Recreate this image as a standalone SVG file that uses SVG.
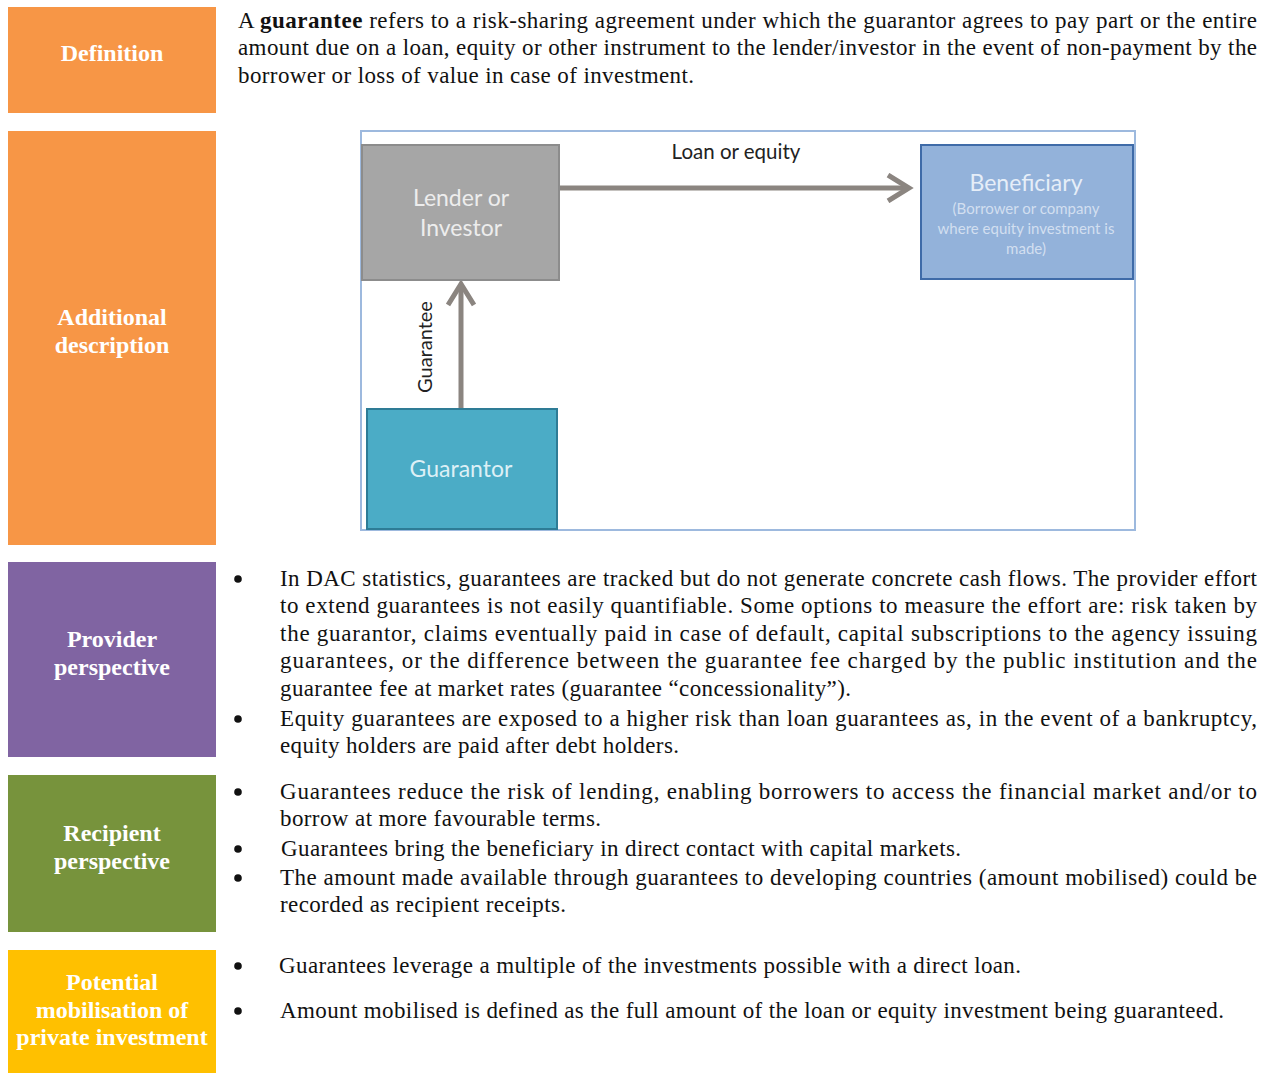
<svg xmlns="http://www.w3.org/2000/svg" width="1275" height="1074" viewBox="0 0 1275 1074">
<style>
.lbl{font-family:"Liberation Serif","Times New Roman",serif;font-size:24px;font-weight:bold;fill:#fff;text-anchor:middle}
.body{font-family:"Liberation Serif","Times New Roman",serif;font-size:23px;fill:#111}
.bul{fill:#111}
.dg{font-family:Lato,"Open Sans","Liberation Sans",sans-serif;text-anchor:middle}
.conn{stroke:#8B8580;stroke-width:5;fill:none}
</style>
<defs>
<marker id="chev" markerUnits="userSpaceOnUse" viewBox="0 0 30 30" markerWidth="30" markerHeight="30" refX="20" refY="15" orient="auto">
<path d="M3,2 L24,15 L3,28" fill="none" stroke="#8B8580" stroke-width="5" stroke-linejoin="miter"/>
</marker>
</defs>
<rect width="1275" height="1074" fill="#fff"/>

<g id="definition">
<rect x="8" y="7" width="208" height="106" fill="#F79646"/>
<text class="lbl" x="112" y="61">Definition</text>
<text class="body" x="238" y="28" textLength="1019" lengthAdjust="spacing">A <tspan font-weight="bold">guarantee</tspan> refers to a risk-sharing agreement under which the guarantor agrees to pay part or the entire</text>
<text class="body" x="238" y="55" textLength="1019" lengthAdjust="spacing">amount due on a loan, equity or other instrument to the lender/investor in the event of non-payment by the</text>
<text class="body" x="238" y="83" textLength="456" lengthAdjust="spacing">borrower or loss of value in case of investment.</text>
</g>

<g id="additional">
<rect x="8" y="131" width="208" height="414" fill="#F79646"/>
<text class="lbl" x="112" y="325">Additional</text>
<text class="lbl" x="112" y="353">description</text>
<rect x="361" y="131" width="774" height="399" fill="#fff" stroke="#9DB9DE" stroke-width="2"/>
</g>

<g id="connectors">
<line class="conn" x1="560" y1="188" x2="905" y2="188" marker-end="url(#chev)"/>
<line class="conn" x1="461" y1="408" x2="461" y2="288" marker-end="url(#chev)"/>
<text class="dg" x="736" y="159" font-size="20.5" fill="#222">Loan or equity</text>
<text class="dg" x="0" y="0" font-size="20" fill="#222" transform="translate(432,347) rotate(-90)">Guarantee</text>
</g>

<g id="lender">
<rect x="362" y="145" width="197" height="135" fill="#A6A6A6" stroke="#8C8C8C" stroke-width="2"/>
<text class="dg" x="461" y="206" font-size="23" fill="#EDEDED">Lender or</text>
<text class="dg" x="461" y="236" font-size="23" fill="#EDEDED">Investor</text>
</g>

<g id="beneficiary">
<rect x="921" y="145" width="212" height="134" fill="#93B2DA" stroke="#3F6BA8" stroke-width="2"/>
<text class="dg" x="1026" y="191" font-size="23" fill="#E6EEF8">Beneficiary</text>
<text class="dg" x="1026" y="214" font-size="15" fill="#D2DFF0">(Borrower or company</text>
<text class="dg" x="1026" y="234" font-size="15" fill="#D2DFF0">where equity investment is</text>
<text class="dg" x="1026" y="254" font-size="15" fill="#D2DFF0">made)</text>
</g>

<g id="guarantor">
<rect x="367" y="409" width="190" height="120" fill="#4BACC6" stroke="#2E7C96" stroke-width="2"/>
<text class="dg" x="461" y="477" font-size="23" fill="#DDF0F6">Guarantor</text>
</g>

<g id="provider">
<rect x="8" y="562" width="208" height="195" fill="#8064A2"/>
<text class="lbl" x="112" y="647">Provider</text>
<text class="lbl" x="112" y="675">perspective</text>
<circle class="bul" cx="238" cy="579" r="3.8"/>
<text class="body" x="280" y="586" textLength="977" lengthAdjust="spacing">In DAC statistics, guarantees are tracked but do not generate concrete cash flows. The provider effort</text>
<text class="body" x="280" y="613" textLength="977" lengthAdjust="spacing">to extend guarantees is not easily quantifiable. Some options to measure the effort are:  risk taken by</text>
<text class="body" x="280" y="641" textLength="977" lengthAdjust="spacing">the guarantor, claims eventually paid in case of default, capital subscriptions to the agency issuing</text>
<text class="body" x="280" y="668" textLength="977" lengthAdjust="spacing">guarantees, or the difference between the guarantee fee charged by the public institution and the</text>
<text class="body" x="280" y="696" textLength="571" lengthAdjust="spacing">guarantee fee at market rates (guarantee “concessionality”).</text>
<circle class="bul" cx="238" cy="719" r="3.8"/>
<text class="body" x="280" y="726" textLength="977" lengthAdjust="spacing">Equity guarantees are exposed to a higher risk than loan guarantees as, in the event of a bankruptcy,</text>
<text class="body" x="280" y="753" textLength="399" lengthAdjust="spacing">equity holders are paid after debt holders.</text>
</g>

<g id="recipient">
<rect x="8" y="775" width="208" height="157" fill="#77933C"/>
<text class="lbl" x="112" y="841">Recipient</text>
<text class="lbl" x="112" y="869">perspective</text>
<circle class="bul" cx="238" cy="792" r="3.8"/>
<text class="body" x="280" y="799" textLength="977" lengthAdjust="spacing">Guarantees reduce the risk of lending, enabling borrowers to access the financial market and/or to</text>
<text class="body" x="280" y="826" textLength="321" lengthAdjust="spacing">borrow at more favourable terms.</text>
<circle class="bul" cx="238" cy="849" r="3.8"/>
<text class="body" x="281" y="856" textLength="680" lengthAdjust="spacing">Guarantees bring the beneficiary in direct contact with capital markets.</text>
<circle class="bul" cx="238" cy="878" r="3.8"/>
<text class="body" x="280" y="885" textLength="977" lengthAdjust="spacing">The amount made available through guarantees to developing countries (amount mobilised) could be</text>
<text class="body" x="280" y="912" textLength="286" lengthAdjust="spacing">recorded as recipient receipts.</text>
</g>

<g id="potential">
<rect x="8" y="950" width="208" height="123" fill="#FFC000"/>
<text class="lbl" x="112" y="990">Potential</text>
<text class="lbl" x="112" y="1018">mobilisation of</text>
<text class="lbl" x="112" y="1045">private investment</text>
<circle class="bul" cx="238" cy="966" r="3.8"/>
<text class="body" x="279" y="973" textLength="742" lengthAdjust="spacing">Guarantees leverage a multiple of the investments possible with a direct loan.</text>
<circle class="bul" cx="238" cy="1011" r="3.8"/>
<text class="body" x="280" y="1018" textLength="944" lengthAdjust="spacing">Amount mobilised is defined as the full amount of the loan or equity investment being guaranteed.</text>
</g>
</svg>
